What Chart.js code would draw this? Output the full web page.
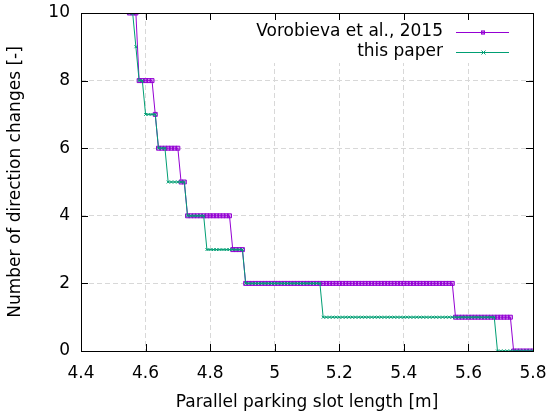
<!DOCTYPE html>
<html>
<head>
<meta charset="utf-8">
<script src="https://cdn.jsdelivr.net/npm/chart.js@4"></script>
<style>
  html, body { margin: 0; padding: 0; background: #fff; }
  #wrap { width: 549px; height: 417px; }
</style>
</head>
<body>
<div id="wrap"><canvas id="chart" width="549" height="417"></canvas></div>
<script>
// slot lengths [m] at which both planners were run
const slotLength = [
  4.55, 4.56, 4.57, 4.58, 4.59, 4.60, 4.61, 4.62, 4.63, 4.64,
  4.65, 4.66, 4.67, 4.68, 4.69, 4.70, 4.71, 4.72, 4.73, 4.74,
  4.75, 4.76, 4.77, 4.78, 4.79, 4.80, 4.81, 4.82, 4.83, 4.84,
  4.85, 4.86, 4.87, 4.88, 4.89, 4.90, 4.91, 4.92, 4.93, 4.94,
  4.95, 4.96, 4.97, 4.98, 4.99, 5.00, 5.01, 5.02, 5.03, 5.04,
  5.05, 5.06, 5.07, 5.08, 5.09, 5.10, 5.11, 5.12, 5.13, 5.14,
  5.15, 5.16, 5.17, 5.18, 5.19, 5.20, 5.21, 5.22, 5.23, 5.24,
  5.25, 5.26, 5.27, 5.28, 5.29, 5.30, 5.31, 5.32, 5.33, 5.34,
  5.35, 5.36, 5.37, 5.38, 5.39, 5.40, 5.41, 5.42, 5.43, 5.44,
  5.45, 5.46, 5.47, 5.48, 5.49, 5.50, 5.51, 5.52, 5.53, 5.54,
  5.55, 5.56, 5.57, 5.58, 5.59, 5.60, 5.61, 5.62, 5.63, 5.64,
  5.65, 5.66, 5.67, 5.68, 5.69, 5.70, 5.71, 5.72, 5.73, 5.74,
  5.75, 5.76, 5.77, 5.78, 5.79, 5.80
];

// number of direction changes, Vorobieva et al., 2015
const vorobieva = [
  10, 10, 10, 8, 8, 8, 8, 8, 7, 6,
  6, 6, 6, 6, 6, 6, 5, 5, 4, 4,
  4, 4, 4, 4, 4, 4, 4, 4, 4, 4,
  4, 4, 3, 3, 3, 3, 2, 2, 2, 2,
  2, 2, 2, 2, 2, 2, 2, 2, 2, 2,
  2, 2, 2, 2, 2, 2, 2, 2, 2, 2,
  2, 2, 2, 2, 2, 2, 2, 2, 2, 2,
  2, 2, 2, 2, 2, 2, 2, 2, 2, 2,
  2, 2, 2, 2, 2, 2, 2, 2, 2, 2,
  2, 2, 2, 2, 2, 2, 2, 2, 2, 2,
  2, 1, 1, 1, 1, 1, 1, 1, 1, 1,
  1, 1, 1, 1, 1, 1, 1, 1, 1, 0,
  0, 0, 0, 0, 0, 0
];

// number of direction changes, this paper
const thisPaper = [
  10, 10, 9, 8, 8, 7, 7, 7, 7, 6,
  6, 6, 5, 5, 5, 5, 5, 5, 4, 4,
  4, 4, 4, 4, 3, 3, 3, 3, 3, 3,
  3, 3, 3, 3, 3, 3, 2, 2, 2, 2,
  2, 2, 2, 2, 2, 2, 2, 2, 2, 2,
  2, 2, 2, 2, 2, 2, 2, 2, 2, 2,
  1, 1, 1, 1, 1, 1, 1, 1, 1, 1,
  1, 1, 1, 1, 1, 1, 1, 1, 1, 1,
  1, 1, 1, 1, 1, 1, 1, 1, 1, 1,
  1, 1, 1, 1, 1, 1, 1, 1, 1, 1,
  1, 1, 1, 1, 1, 1, 1, 1, 1, 1,
  1, 1, 1, 1, 0, 0, 0, 0, 0, 0,
  0, 0, 0, 0, 0, 0
];

const seriesLabels = ['Vorobieva et al., 2015', 'this paper'];
const xTicks = [4.4, 4.6, 4.8, 5.0, 5.2, 5.4, 5.6, 5.8];
const yTicks = [0, 2, 4, 6, 8, 10];

const PURPLE = '#9400d3';
const GREEN = '#009e73';
const FONT = "'DejaVu Sans', sans-serif";
const FSIZE = 17;

// gnuplot-like frame: border, inward ticks on all four sides, key with white box
const framePlugin = {
  id: 'frame',
  beforeDatasetsDraw(chart) {
    const ctx = chart.ctx;
    const a = chart.chartArea;
    // white key box hides grid behind the legend
    ctx.save();
    ctx.fillStyle = '#fff';
    ctx.fillRect(180, a.top + 1, a.right - 181, 49);
    ctx.restore();
  },
  afterDatasetsDraw(chart) {
    const ctx = chart.ctx;
    const a = chart.chartArea;
    const xs = chart.scales.x, ys = chart.scales.y;
    ctx.save();
    ctx.strokeStyle = '#000';
    ctx.lineWidth = 1;
    ctx.beginPath();
    xTicks.forEach(v => {
      const px = Math.round(xs.getPixelForValue(v)) + 0.5;
      ctx.moveTo(px, a.bottom); ctx.lineTo(px, a.bottom - 7);
      ctx.moveTo(px, a.top); ctx.lineTo(px, a.top + 7);
    });
    yTicks.forEach(v => {
      const py = Math.round(ys.getPixelForValue(v)) + 0.5;
      ctx.moveTo(a.left, py); ctx.lineTo(a.left + 7, py);
      ctx.moveTo(a.right, py); ctx.lineTo(a.right - 7, py);
    });
    ctx.stroke();
    ctx.strokeRect(Math.round(a.left) + 0.5, Math.round(a.top) + 0.5,
      Math.round(a.right - a.left), Math.round(a.bottom - a.top));

    // key
    ctx.font = FSIZE + 'px ' + FONT;
    ctx.textAlign = 'right';
    ctx.textBaseline = 'middle';
    const rows = [
      { label: seriesLabels[0], color: PURPLE, y: 32, mark: 'rect' },
      { label: seriesLabels[1], color: GREEN, y: 52, mark: 'cross' }
    ];
    rows.forEach(r => {
      ctx.fillStyle = '#000';
      ctx.fillText(r.label, 443, r.y);
      ctx.strokeStyle = r.color;
      ctx.lineWidth = 1;
      ctx.beginPath();
      ctx.moveTo(456, r.y + 0.5); ctx.lineTo(509, r.y + 0.5);
      ctx.stroke();
      if (r.mark === 'rect') {
        ctx.fillStyle = 'rgba(148,0,211,0.35)';
        ctx.fillRect(481, r.y - 1.5, 4, 4);
        ctx.strokeRect(481.5, r.y - 1, 3, 3);
      } else {
        ctx.beginPath();
        ctx.moveTo(481.5, r.y - 1.5); ctx.lineTo(485.5, r.y + 2.5);
        ctx.moveTo(485.5, r.y - 1.5); ctx.lineTo(481.5, r.y + 2.5);
        ctx.stroke();
      }
    });
    ctx.restore();
  }
};

const ctx = document.getElementById('chart').getContext('2d');
new Chart(ctx, {
  type: 'line',
  data: {
    datasets: [
      {
        label: seriesLabels[0],
        data: slotLength.map((x, i) => ({ x: x, y: vorobieva[i] })),
        borderColor: PURPLE,
        borderWidth: 1,
        pointStyle: 'rect',
        pointRadius: 2.8,
        pointBorderWidth: 1,
        pointBorderColor: PURPLE,
        pointBackgroundColor: 'rgba(148,0,211,0.35)',
        order: 1
      },
      {
        label: seriesLabels[1],
        data: slotLength.map((x, i) => ({ x: x, y: thisPaper[i] })),
        borderColor: GREEN,
        borderWidth: 1,
        pointStyle: 'crossRot',
        pointRadius: 2,
        pointBorderWidth: 1,
        pointBorderColor: GREEN,
        order: 0
      }
    ]
  },
  options: {
    responsive: false,
    animation: false,
    layout: { padding: { left: 0, top: 13, right: 16, bottom: 0 } },
    plugins: {
      legend: { display: false },
      tooltip: { enabled: false }
    },
    scales: {
      x: {
        type: 'linear',
        min: 4.4,
        max: 5.8,
        afterFit: s => { s.height = 66; s.paddingLeft = 0; s.paddingRight = 0; },
        afterBuildTicks: s => { s.ticks = xTicks.map(v => ({ value: v })); },
        border: { display: false, dash: [5, 3] },
        grid: { color: '#d8d8d8', drawTicks: false },
        ticks: {
          color: '#000',
          font: { family: FONT, size: FSIZE },
          padding: 12,
          maxRotation: 0,
          callback: v => String(Math.round(v * 10) / 10)
        },
        title: {
          display: true,
          text: 'Parallel parking slot length [m]',
          color: '#000',
          font: { family: FONT, size: FSIZE },
          padding: { top: 4, bottom: 4 }
        }
      },
      y: {
        min: 0,
        max: 10,
        afterFit: s => { s.width = 81; s.paddingTop = 0; s.paddingBottom = 0; },
        afterBuildTicks: s => { s.ticks = yTicks.map(v => ({ value: v })); },
        border: { display: false, dash: [5, 3] },
        grid: { color: '#d8d8d8', drawTicks: false },
        ticks: {
          color: '#000',
          font: { family: FONT, size: FSIZE },
          padding: 11
        },
        title: {
          display: true,
          text: 'Number of direction changes [-]',
          color: '#000',
          font: { family: FONT, size: FSIZE },
          padding: { top: 5, bottom: 4 }
        }
      }
    }
  },
  plugins: [framePlugin]
});
</script>
</body>
</html>
